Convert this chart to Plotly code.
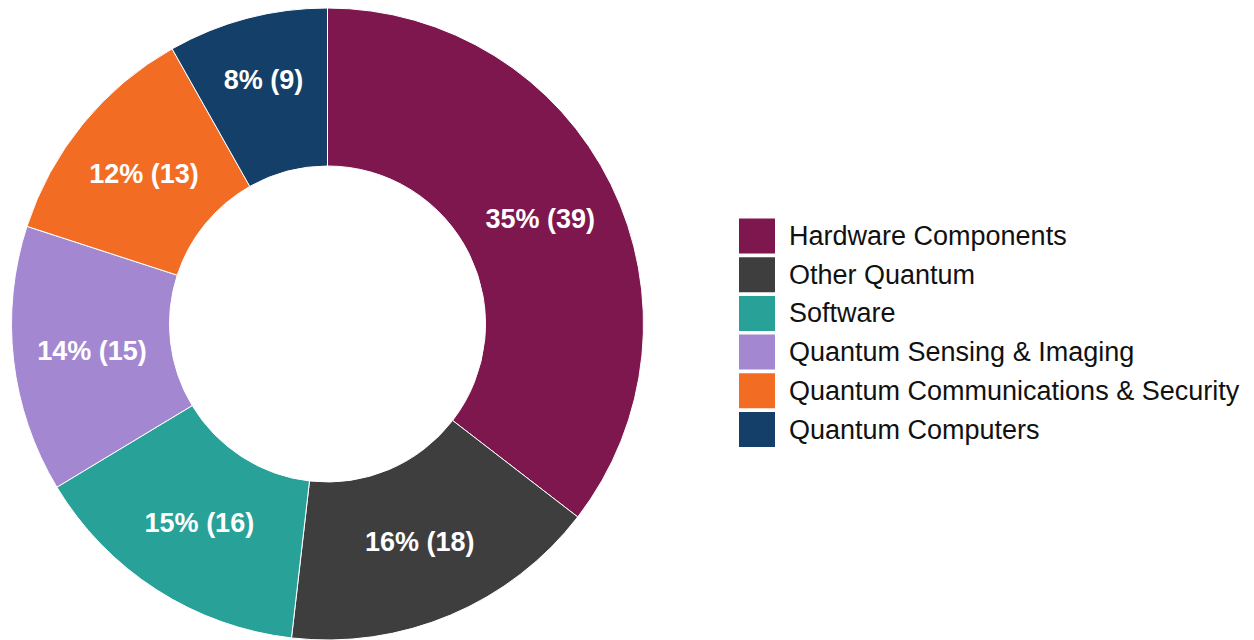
import plotly.graph_objects as go

# Category breakdown (count of companies per segment)
labels = [
    "Hardware Components",
    "Other Quantum",
    "Software",
    "Quantum Sensing & Imaging",
    "Quantum Communications & Security",
    "Quantum Computers",
]
values = [39, 18, 16, 15, 13, 9]
colors = ["#7E174E", "#3E3E3E", "#28A298", "#A388D1", "#F26C24", "#143F69"]

W, H = 1254, 640
FONT = "Liberation Sans, Arial, sans-serif"

fig = go.Figure(
    go.Pie(
        labels=labels,
        values=values,
        hole=0.5,
        sort=False,
        direction="clockwise",
        rotation=0,
        marker=dict(colors=colors, line=dict(color="white", width=1)),
        texttemplate="%{percent:.0%} (%{value})",
        textposition="inside",
        insidetextorientation="horizontal",
        textfont=dict(family=FONT, size=27, color="white", weight="bold"),
        domain=dict(x=[10 / W, 645 / W], y=[0, 1 - 8 / H]),
        showlegend=False,
        hoverinfo="label+value+percent",
    )
)

# Custom legend with large colour swatches
first_center = 236
pitch = 38.7
sw_h = 35
shapes, annotations = [], []
for i, (lab, col) in enumerate(zip(labels, colors)):
    cy = first_center + i * pitch
    shapes.append(dict(
        type="rect", xref="paper", yref="paper",
        x0=739 / W, x1=775 / W,
        y0=1 - (cy + sw_h / 2) / H, y1=1 - (cy - sw_h / 2) / H,
        fillcolor=col, line=dict(width=0),
    ))
    annotations.append(dict(
        xref="paper", yref="paper", x=787 / W, y=1 - cy / H,
        xanchor="left", yanchor="middle", showarrow=False, text=lab,
        font=dict(family=FONT, size=27, color="#111111"),
    ))

fig.update_layout(
    width=W, height=H,
    margin=dict(l=0, r=0, t=0, b=0),
    paper_bgcolor="white",
    plot_bgcolor="white",
    shapes=shapes,
    annotations=annotations,
    uniformtext=dict(minsize=10, mode="show"),
)

fig.write_html("out.html")
